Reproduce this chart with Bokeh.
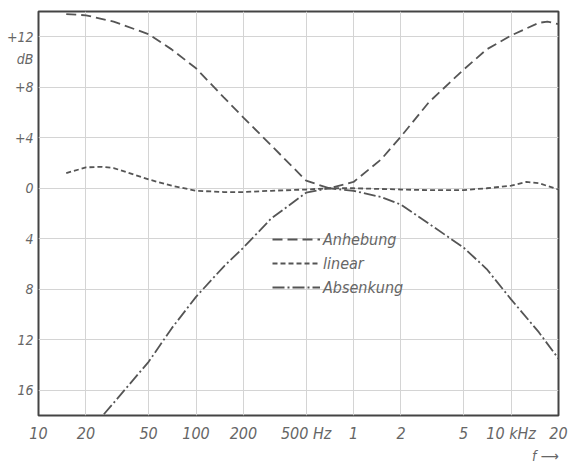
from bokeh.plotting import figure
from bokeh.models import FixedTicker, Legend, LegendItem, Range1d, Title
from bokeh.embed import file_html
from bokeh.resources import INLINE

# Anhebung (boost)
freq_anh = [15, 20, 30, 50, 70, 100, 150, 200, 300, 500, 700, 1000, 1500, 2000, 3000, 5000, 7000, 10000, 15000, 17000, 20000]
db_anh = [13.8, 13.7, 13.2, 12.2, 11.0, 9.5, 7.2, 5.6, 3.4, 0.6, 0.0, 0.5, 2.3, 4.1, 6.8, 9.4, 11.0, 12.1, 13.1, 13.2, 13.0]

# linear
freq_lin = [15, 20, 25, 30, 50, 70, 100, 150, 200, 300, 500, 700, 1000, 2000, 3000, 5000, 7000, 10000, 12500, 15000, 20000]
db_lin = [1.2, 1.65, 1.7, 1.6, 0.7, 0.2, -0.2, -0.3, -0.3, -0.2, -0.1, 0.0, 0.0, -0.1, -0.15, -0.15, 0.0, 0.2, 0.5, 0.4, -0.1]

# Absenkung (cut)
freq_abs = [26, 30, 50, 70, 100, 150, 200, 300, 500, 700, 1000, 1500, 2000, 3000, 5000, 7000, 10000, 15000, 20000]
db_abs = [-17.9, -17.0, -13.75, -11.1, -8.6, -6.2, -4.7, -2.4, -0.35, 0.0, -0.2, -0.7, -1.3, -2.8, -4.7, -6.4, -8.8, -11.4, -13.5]

x_ticks = [10, 20, 50, 100, 200, 500, 1000, 2000, 5000, 10000, 20000]
x_labels = ["10", "20", "50", "100", "200", "500 Hz", "1", "2", "5", "10 kHz", "20"]
y_ticks = [-16, -12, -8, -4, 0, 4, 8, 12]
y_labels = ["16", "12", "8", "4", "0", "+4", "+8", "+12"]
db_label_pos = 10.2

FONT = "'Liberation Sans Narrow', 'DejaVu Sans Condensed', 'Roboto', sans-serif"
TXT = "#666666"
LINE = "#555555"

p = figure(width=572, height=463, x_axis_type="log",
           x_range=Range1d(10, 20000), y_range=Range1d(-18, 14),
           output_backend="svg", toolbar_location=None,
           min_border_left=38, min_border_right=14, min_border_top=11, min_border_bottom=48)

p.outline_line_color = "#444444"
p.outline_line_width = 2
p.background_fill_color = "white"
p.border_fill_color = "white"

p.xaxis.ticker = FixedTicker(ticks=x_ticks)
p.xaxis.major_label_overrides = {t: l for t, l in zip(x_ticks, x_labels)}
p.yaxis.ticker = FixedTicker(ticks=y_ticks + [db_label_pos])
ov = {t: l for t, l in zip(y_ticks, y_labels)}
ov[db_label_pos] = "dB"
p.yaxis.major_label_overrides = ov

p.xgrid.ticker = FixedTicker(ticks=x_ticks[1:-1])
p.ygrid.ticker = FixedTicker(ticks=y_ticks)
for g in (p.xgrid, p.ygrid):
    g.grid_line_color = "#d4d4d4"
    g.grid_line_width = 1

for ax in (p.xaxis, p.yaxis):
    ax.axis_line_color = None
    ax.major_tick_line_color = None
    ax.minor_tick_line_color = None
    ax.major_tick_out = 0
    ax.major_tick_in = 0
    ax.minor_tick_out = 0
    ax.minor_tick_in = 0
    ax.major_label_text_font = FONT
    ax.major_label_text_font_style = "italic"
    ax.major_label_text_color = TXT
p.xaxis.major_label_text_font_size = "16px"
p.yaxis.major_label_text_font_size = "14px"
p.xaxis.major_label_standoff = 8
p.yaxis.major_label_standoff = 5

r1 = p.line(freq_anh, db_anh, line_color=LINE, line_width=1.8, line_dash="10 5")
r2 = p.line(freq_lin, db_lin, line_color=LINE, line_width=1.8, line_dash="5 3")
r3 = p.line(freq_abs, db_abs, line_color=LINE, line_width=1.8, line_dash="12 3 2 3")

legend = Legend(items=[LegendItem(label="Anhebung", renderers=[r1]),
                       LegendItem(label="linear", renderers=[r2]),
                       LegendItem(label="Absenkung", renderers=[r3])],
                location=(234, 118), padding=0, margin=0, spacing=4,
                glyph_width=48, glyph_height=20, label_height=20, label_standoff=3,
                background_fill_alpha=0, border_line_color=None,
                label_text_font=FONT, label_text_font_style="italic",
                label_text_font_size="16px", label_text_color=TXT)
p.add_layout(legend)

p.add_layout(Title(text="f \u27f6", align="right", text_font=FONT, text_font_style="italic",
                   text_font_size="14px", text_color=TXT, standoff=0, offset=0), "below")

open("out.html", "w").write(file_html(p, INLINE))
